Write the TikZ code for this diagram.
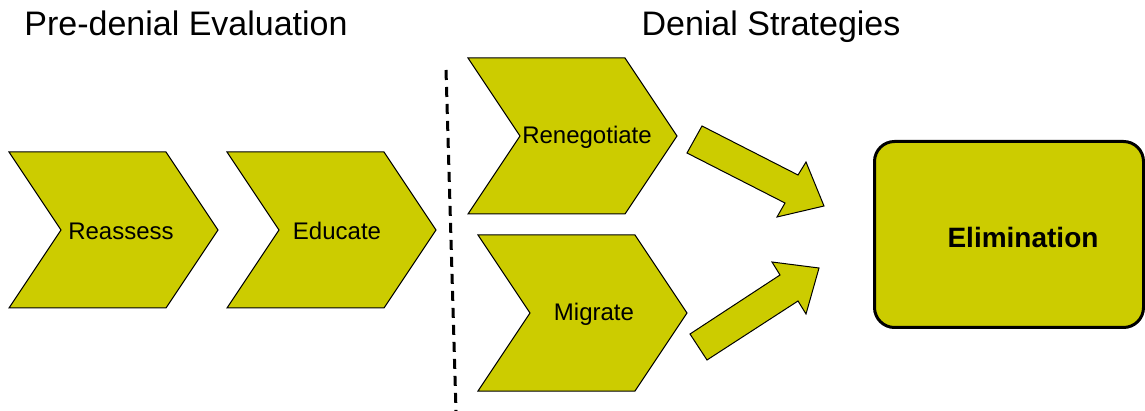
\documentclass[tikz,border=0pt]{standalone}
\usepackage{fontspec}
\setmainfont{Liberation Sans}
\definecolor{olive}{RGB}{204,204,0}
\tikzset{
  chev/.style={fill=olive,draw=black,line width=1pt,line join=miter},
  chevtext/.style={font=\fontsize{24}{28}\selectfont,inner sep=0pt},
  title/.style={font=\fontsize{34}{40}\selectfont,inner sep=0pt,anchor=base},
  blockarrow/.style={fill=olive,draw=black,line width=1pt,line join=miter},
  endbox/.style={fill=olive,draw=black,line width=3pt,rounded corners=20pt,minimum width=269pt,minimum height=186pt,inner sep=0pt}
}
\newcommand{\chevron}[2]{% left x, top y
  \draw[chev] (#1,#2) -- ++(157,0) -- ++(52,78) -- ++(-52,78) -- ++(-157,0) -- ++(52,-78) -- cycle;}
\begin{document}
\begin{tikzpicture}[x=1pt,y=-1pt]
\useasboundingbox (0,0) rectangle (1145,411);
% titles
\node[title] (t1) at (186,36) {Pre-denial Evaluation};
\node[title] (t2) at (771,36) {Denial Strategies};
% dashed separator
\coordinate (d1) at (446,70);
\coordinate (d2) at (456,411);
\draw[line width=3pt,dash pattern=on 10pt off 7pt] (d1) -- (d2);
% chevrons
\chevron{9}{152}
\node[chevtext] (reassess) at (121,231) {Reassess};
\chevron{227}{152}
\node[chevtext] (educate) at (337,231) {Educate};
\chevron{468}{58}
\node[chevtext] (reneg) at (587,137) {Renegotiate};
\chevron{478}{235}
\node[chevtext] (migrate) at (594,314) {Migrate};
% elimination box
\node[endbox] (elim) at (1009,234.5) {};
\node[font=\fontsize{28}{32}\selectfont\bfseries,inner sep=0pt] (elimtext) at (1023,237) {Elimination};
% block arrows
\draw[blockarrow] (702,126) -- (798,175) -- (806,162) -- (824,206) -- (777,217) -- (785,203) -- (687,153) -- cycle;
\draw[blockarrow] (690,334) -- (780,275) -- (772,262) -- (819,268) -- (806,314) -- (798,301) -- (707,360) -- cycle;
\end{tikzpicture}
\end{document}
